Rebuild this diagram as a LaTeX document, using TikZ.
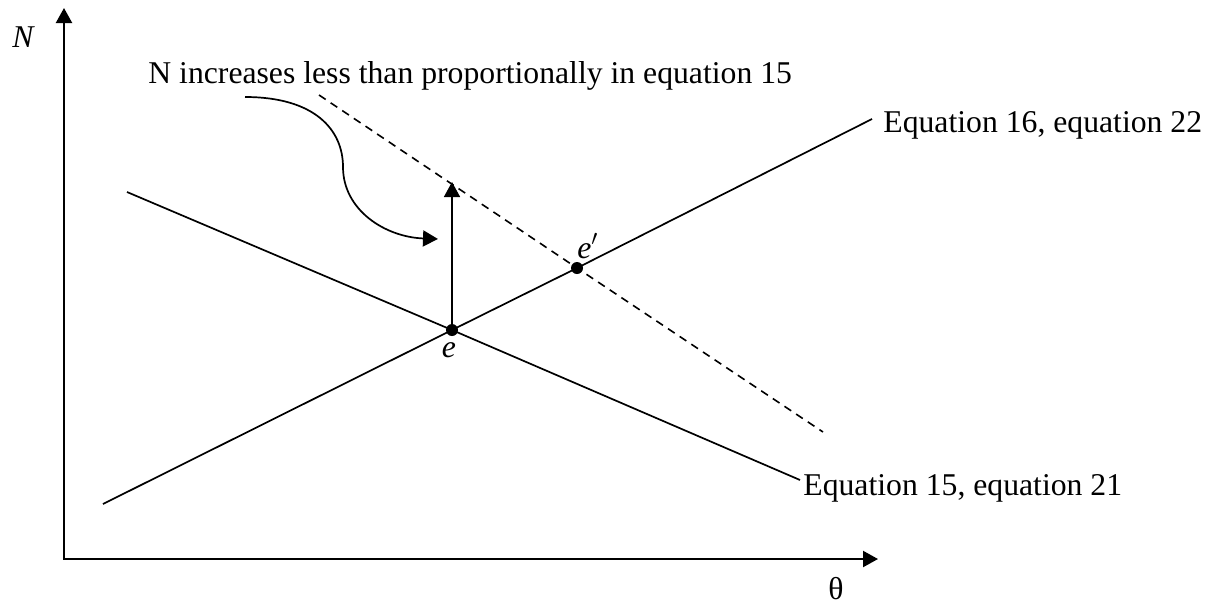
\documentclass[tikz,border=0pt]{standalone}
\usepackage{fontspec}
\setmainfont{Liberation Serif}
\usetikzlibrary{arrows.meta}

\begin{document}
\begin{tikzpicture}[x=0.5pt, y=-0.5pt,
        font=\fontsize{15.85}{19}\selectfont,
        axis/.style={line width=1.1pt, {Triangle[length=7.5pt,width=8pt]}-{Triangle[length=7.5pt,width=8pt]}},
        curve/.style={line width=0.85pt},
        shifted/.style={line width=0.8pt, dash pattern=on 4pt off 3pt},
        pointer/.style={line width=0.85pt, -{Triangle[length=7.5pt,width=8pt]}},
        point/.style={circle, fill, inner sep=0pt, minimum size=6pt},
        label/.style={inner sep=0pt, anchor=base west}]
        \useasboundingbox (0,0) rectangle (1225,606);

            \coordinate (o) at (64,559);
            \coordinate (ytop) at (64,8);
            \coordinate (xend) at (878,559);
            \draw[axis] (ytop) -- (o) -- (xend);

            \node[label] (nlab) at (12,47) {\textit{N}};
            \node[label] (thlab) at (828,599) {θ};

            \node[point] (e) at (452,330) {};
            \node[point] (eprime) at (577,268) {};

            \coordinate (a) at (103,504);
            \coordinate (b) at (872,119);
            \coordinate (c) at (127,192);
            \coordinate (d) at (800,480);
            \coordinate (f) at (319,95);
            \coordinate (g) at (823,432);

            \draw[curve] (a) -- (e.center) -- (eprime.center) -- (b);
            \draw[curve] (c) -- (e.center) -- (d);
            \draw[shifted] (f) -- (eprime.center) -- (g);

            \node[label] (eq16) at (883,132) {Equation 16, equation 22};
            \node[label] (eq15) at (803,495) {Equation 15, equation 21};
            \node[inner sep=0pt, anchor=base] (elab) at (449,357) {\textit{e}};
            \node[label] (eplab) at (577,258) {\textit{e}$'$};

            \coordinate (etop) at (452,182);
            \draw[pointer] (e.center) -- (etop);

            \node[label] (note) at (148,83) {N increases less than proportionally in equation 15};
            \coordinate (cstart) at (245,97);
            \coordinate (cmid) at (343,167);
            \coordinate (cend) at (438,239);
            \draw[pointer] (cstart) .. controls (315,97) and (343,130) .. (cmid)
                .. controls (343,210) and (385,237) .. (cend);
\end{tikzpicture}
\end{document}
